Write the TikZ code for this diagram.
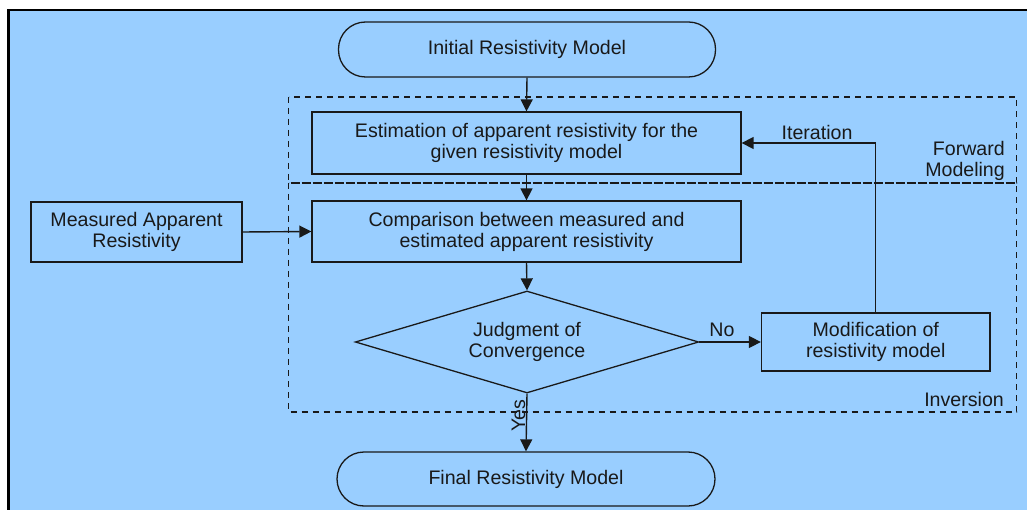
\documentclass[tikz,border=0pt]{standalone}
\usepackage{fontspec}
\setmainfont{Liberation Sans}
\usetikzlibrary{arrows.meta,shapes.geometric}
\definecolor{bgblue}{RGB}{153,206,255}
\definecolor{ink}{RGB}{25,25,25}
\tikzset{
  every node/.style={font=\fontsize{19.6pt}{21pt}\selectfont, text=ink},
  boxnode/.style={draw=ink, line width=1.3pt, rectangle, inner sep=0pt, align=center},
  stadium/.style={draw=ink, line width=1.3pt, rectangle, rounded corners=27pt, inner sep=0pt, align=center},
  decision/.style={draw=ink, line width=1.3pt, diamond, shape aspect=3.37, inner sep=0pt, align=center},
  flow/.style={draw=ink, line width=1.4pt, -{Triangle[length=12pt,width=12pt]}},
  frame/.style={draw=ink, line width=1.4pt, dash pattern=on 6pt off 5pt},
  lbl/.style={inner sep=0pt}
}
\begin{document}
\begin{tikzpicture}[x=1pt,y=-1pt]
\useasboundingbox (0,0) rectangle (1027,510);
\fill[bgblue] (8.5,10) rectangle (1027,510);
\draw[black, line width=2.5pt] (8.5,510) -- (8.5,10) -- (1027,10);

% dashed groups
\draw[frame] (288.5,97) rectangle (1016.5,183);
\draw[frame] (288.5,183) rectangle (1016.5,412);
\node[lbl, anchor=east, align=right] (fwdlbl) at (1005,160.5) {Forward\\Modeling};
\node[lbl, anchor=east] (invlbl) at (1004,399) {Inversion};

% nodes
\node[stadium, minimum width=377pt, minimum height=55pt] (init) at (527,49.5) {Initial Resistivity Model};
\node[boxnode, minimum width=429pt, minimum height=62pt] (est) at (526.5,143) {Estimation of apparent resistivity for the\\given resistivity model};
\node[boxnode, minimum width=211pt, minimum height=60pt] (meas) at (136.5,232) {Measured Apparent\\Resistivity};
\node[boxnode, minimum width=429pt, minimum height=61pt] (comp) at (526.5,231.5) {Comparison between measured and\\estimated apparent resistivity};
\node[decision, minimum width=343.5pt, minimum height=102pt] (judge) at (527,342) {Judgment of\\Convergence};
\node[boxnode, minimum width=228.5pt, minimum height=58pt] (modif) at (875.75,342) {Modification of\\resistivity model};
\node[stadium, minimum width=378pt, minimum height=54pt] (final) at (526,479) {Final Resistivity Model};

% connectors
\draw[flow] (init.south) -- (est.north);
\draw[flow] (est.south) -- (comp.north);
\draw[flow] (meas.east) -- (comp.west);
\draw[flow] (comp.south) -- (judge.north);
\draw[flow] (judge.east) -- (modif.west);
\draw[flow] (modif.north) |- (est.east);
\draw[flow] (judge.south) -- (final.north);

% connector labels
\node[lbl] (nolbl) at (722,330) {No};
\node[lbl] (itlbl) at (817,132) {Iteration};
\node[lbl, rotate=90] (yeslbl) at (518.5,416) {Yes};
\end{tikzpicture}
\end{document}
